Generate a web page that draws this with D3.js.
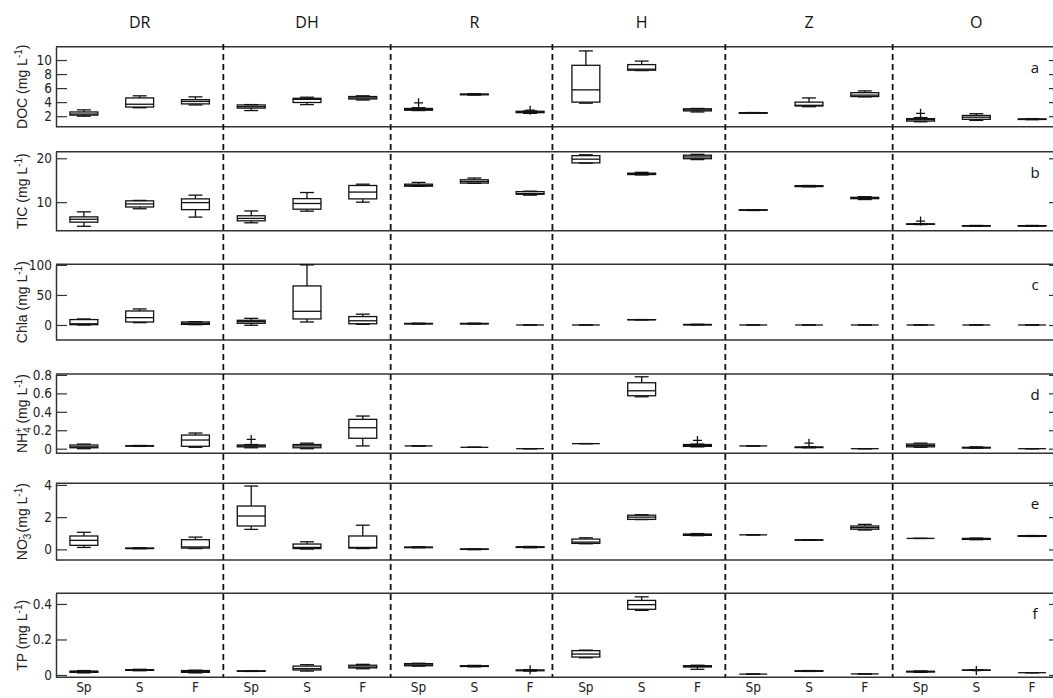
<!DOCTYPE html>
<html><head><meta charset="utf-8">
<script src="https://cdn.jsdelivr.net/npm/d3@7"></script>
<style>body{margin:0;background:#fff}</style>
</head><body><svg id="c" width="1053" height="698"></svg>
<script>
const groups = ["DR","DH","R","H","Z","O"];
const seasons = ["Sp","S","F"];
const separators = [3.5, 6.5, 9.4, 12.5, 15.5];
const panelLetters = ["a","b","c","d","e","f"];

// [low whisker, q1, median, q3, high whisker] for positions 1..18
const docStats = [
[2.0,2.15,2.3,2.6,2.9],[3.2,3.3,3.7,4.6,4.9],[3.6,3.75,4.1,4.35,4.75],
[2.8,3.15,3.35,3.6,3.65],[3.65,3.95,4.4,4.55,4.7],[4.3,4.45,4.6,4.8,4.9],
[2.8,2.85,2.95,3.1,3.2],[5.0,5.05,5.1,5.15,5.2],[2.4,2.5,2.6,2.7,2.75],
[3.85,4.0,5.75,9.25,11.3],[8.5,8.55,8.7,9.35,9.85],[2.6,2.75,2.9,3.05,3.1],
[2.4,2.42,2.45,2.5,2.52],[3.35,3.45,3.55,4.0,4.6],[4.75,4.8,5.0,5.35,5.6],
[1.2,1.3,1.5,1.65,1.8],[1.4,1.55,1.85,2.1,2.35],[1.5,1.53,1.57,1.6,1.65]];
const docOutliers = [[7,3.9],[9,2.85],[16,2.4]];
const docTicks = [2,4,6,8,10];

const ticStats = [
[4.5,5.45,6.1,6.65,7.8],[8.5,8.9,9.6,10.3,10.4],[6.6,8.3,9.9,10.75,11.6],
[5.3,5.75,6.3,6.9,8.0],[7.95,8.4,9.7,10.8,12.2],[10.0,10.75,12.3,13.8,14.1],
[13.6,13.65,13.8,14.1,14.5],[14.3,14.35,14.7,15.1,15.5],[11.6,11.8,11.95,12.4,12.5],
[18.9,18.95,19.8,20.6,20.8],[16.2,16.3,16.45,16.6,16.8],[19.7,19.9,20.3,20.7,20.9],
[8.1,8.15,8.2,8.25,8.3],[13.5,13.55,13.65,13.75,13.8],[10.6,10.8,10.95,11.1,11.25],
[4.9,4.95,5.0,5.05,5.1],[4.5,4.55,4.6,4.65,4.7],[4.5,4.55,4.6,4.65,4.7]];
const ticOutliers = [[16,5.7]];
const ticTicks = [10,20];

const chlaStats = [
[0,0.5,2,9,10],[3.9,5,12.2,23.3,26.7],[0.5,1,2.8,5,5.5],
[-0.5,2.8,5.5,7.8,11],[5,10,22.8,65,100],[1,2,7,14,18],
[1.5,1.8,2.2,2.6,3.0],[1.5,1.8,2.2,2.6,3.0],[0,0,0,0,0],
[0,0,0,0,0],[8.5,8.7,8.8,8.9,9.0],[0,0.2,0.5,0.9,1.2],
[0,0,0,0,0],[0,0,0,0,0],[0,0,0,0,0],
[0,0,0,0,0],[0,0,0,0,0],[0,0,0,0,0]];
const chlaOutliers = [];
const chlaTicks = [0,50,100];

const nh4Stats = [
[0.0,0.01,0.02,0.04,0.05],[0.025,0.028,0.03,0.032,0.035],[0.015,0.026,0.094,0.148,0.17],
[0.01,0.02,0.03,0.04,0.045],[0.0,0.01,0.03,0.045,0.06],[0.03,0.113,0.227,0.318,0.354],
[0.03,0.03,0.03,0.03,0.03],[0.015,0.015,0.015,0.015,0.015],[0,0,0,0,0],
[0.055,0.055,0.055,0.055,0.055],[0.563,0.574,0.628,0.715,0.78],[0.02,0.025,0.035,0.045,0.05],
[0.03,0.03,0.03,0.03,0.03],[0.01,0.012,0.015,0.018,0.02],[0,0,0,0,0],
[0.015,0.02,0.035,0.05,0.06],[0.005,0.008,0.01,0.015,0.02],[0,0,0,0,0]];
const nh4Outliers = [[4,0.1],[12,0.09],[14,0.06]];
const nh4Ticks = [0,0.2,0.4,0.6,0.8];

const no3Stats = [
[0.12,0.25,0.56,0.83,1.06],[0.04,0.05,0.06,0.08,0.1],[0.05,0.08,0.15,0.6,0.76],
[1.24,1.45,2.07,2.69,3.93],[0.02,0.05,0.12,0.33,0.47],[0.05,0.08,0.12,0.83,1.5],
[0.1,0.11,0.12,0.14,0.16],[-0.02,0,0.01,0.02,0.03],[0.1,0.12,0.14,0.16,0.18],
[0.35,0.37,0.45,0.64,0.72],[1.85,1.86,2.0,2.12,2.15],[0.85,0.87,0.9,0.95,0.98],
[0.9,0.9,0.9,0.9,0.9],[0.56,0.57,0.58,0.59,0.6],[1.2,1.25,1.35,1.45,1.55],
[0.68,0.68,0.68,0.68,0.68],[0.6,0.62,0.65,0.68,0.7],[0.8,0.81,0.83,0.85,0.86]];
const no3Outliers = [];
const no3Ticks = [0,2,4];

const tpStats = [
[0.012,0.015,0.018,0.022,0.025],[0.024,0.026,0.028,0.03,0.032],[0.012,0.015,0.02,0.025,0.027],
[0.02,0.021,0.022,0.023,0.024],[0.022,0.028,0.036,0.05,0.058],[0.035,0.04,0.045,0.055,0.06],
[0.05,0.052,0.057,0.064,0.066],[0.046,0.048,0.05,0.052,0.054],[0.022,0.024,0.026,0.028,0.03],
[0.097,0.101,0.118,0.137,0.14],[0.364,0.37,0.396,0.42,0.44],[0.032,0.045,0.05,0.052,0.055],
[0.005,0.005,0.005,0.005,0.005],[0.02,0.021,0.022,0.024,0.025],[0.006,0.006,0.006,0.006,0.006],
[0.015,0.017,0.019,0.021,0.023],[0.026,0.027,0.027,0.028,0.029],[0.013,0.013,0.013,0.013,0.013]];
const tpOutliers = [[9,0.03],[17,0.025]];
const tpTicks = [0,0.2,0.4];

const yDomains = [[0.5,11.9],[3.5,21.5],[-25,101],[-0.05,0.81],[-0.66,4.1],[-0.013,0.46]];

const panels = [
  {stats: docStats, out: docOutliers, ticks: docTicks, label: [["DOC (mg L",0],["-1","sup"],[")",0]]},
  {stats: ticStats, out: ticOutliers, ticks: ticTicks, label: [["TIC (mg L",0],["-1","sup"],[")",0]]},
  {stats: chlaStats, out: chlaOutliers, ticks: chlaTicks, label: [["Chla (mg L",0],["-1","sup"],[")",0]]},
  {stats: nh4Stats, out: nh4Outliers, ticks: nh4Ticks, label: [["NH",0],["4","sub"],["+","supback"],[" (mg L",0],["-1","sup"],[")",0]]},
  {stats: no3Stats, out: no3Outliers, ticks: no3Ticks, label: [["NO",0],["3","sub"],["-","supback"],[" (mg L",0],["-1","sup"],[")",0]]},
  {stats: tpStats, out: tpOutliers, ticks: tpTicks, label: [["TP (mg L",0],["-1","sup"],[")",0]]}
];
const panelBounds = [[46.7,126.7],[151.7,230.7],[264.3,340],[374,453.3],[483.3,560],[593.3,677.3]];

const svg = d3.select("#c");
const numFont = "'Liberation Sans Narrow','DejaVu Sans Condensed','Liberation Sans',sans-serif";
const x = d3.scaleLinear().domain([0.5, 18.5]).range([56, 1060]);
const unit = x(1) - x(0);
const boxW = unit * 0.5, capW = unit * 0.25;

svg.selectAll("text.col").data(groups).enter().append("text")
  .attr("x", (d,i) => x(i*3+2)).attr("y", 28)
  .attr("text-anchor","middle").attr("font-family","'Open Sans',sans-serif")
  .attr("font-size",16).attr("fill","#111").text(d=>d);

panels.forEach((p, pi) => {
  const [top, bot] = panelBounds[pi];
  const y = d3.scaleLinear().domain(yDomains[pi]).range([bot, top]);
  const g = svg.append("g");
  g.append("line").attr("x1",56).attr("x2",1060).attr("y1",top).attr("y2",top).attr("stroke","#333").attr("stroke-width",1.5);
  g.append("line").attr("x1",56).attr("x2",1060).attr("y1",bot).attr("y2",bot).attr("stroke","#333").attr("stroke-width",1.5);
  const ax = g.append("g").attr("transform","translate(56,0)")
    .call(d3.axisLeft(y).tickValues(p.ticks).tickSizeInner(-11).tickSizeOuter(0).tickPadding(4).tickFormat(d3.format("~g")));
  ax.select(".domain").attr("stroke","#333").attr("stroke-width",1.5);
  ax.selectAll(".tick line").attr("stroke","#333").attr("stroke-width",1.2);
  ax.selectAll(".tick text").attr("font-family",numFont).attr("font-size",13.5).attr("fill","#222");
  g.append("g").attr("transform","translate(1060,0)")
    .call(d3.axisRight(y).tickValues(p.ticks).tickSizeInner(-11).tickSizeOuter(0).tickFormat(""))
    .call(s => { s.select(".domain").attr("stroke","#333").attr("stroke-width",1.5); s.selectAll(".tick line").attr("stroke","#333").attr("stroke-width",1.2); });
  const t = g.append("text").attr("transform",`translate(27,${(top+bot)/2}) rotate(-90)`)
    .attr("text-anchor","middle").attr("font-family","'Liberation Sans',Arial,sans-serif")
    .attr("font-size",14).attr("fill","#222");
  p.label.forEach(([s, k]) => {
    const ts = t.append("tspan").text(s);
    if (k === "sup") ts.attr("font-size",10).attr("dy",-5);
    if (k === "sub") ts.attr("font-size",10).attr("dy",4);
    if (k === "supback") ts.attr("font-size",10).attr("dx",-6).attr("dy",-9);
    if (k === 0 && s.startsWith(")")) ts.attr("dy",5);
    if (k === 0 && s.startsWith(" (")) ts.attr("dy",5);
  });
  g.append("text").attr("x",1035).attr("y",top+26).attr("text-anchor","middle")
    .attr("font-family","'Open Sans',sans-serif").attr("font-size",15).attr("fill","#111")
    .text(panelLetters[pi]);
  const bg = g.selectAll("g.box").data(p.stats).enter().append("g");
  const st = s => s.attr("stroke","#111").attr("stroke-width",1.3);
  bg.append("line").attr("x1",(d,i)=>x(i+1)).attr("x2",(d,i)=>x(i+1))
    .attr("y1",d=>y(d[4])).attr("y2",d=>y(d[3])).call(st);
  bg.append("line").attr("x1",(d,i)=>x(i+1)).attr("x2",(d,i)=>x(i+1))
    .attr("y1",d=>y(d[1])).attr("y2",d=>y(d[0])).call(st);
  bg.append("line").attr("x1",(d,i)=>x(i+1)-capW/2).attr("x2",(d,i)=>x(i+1)+capW/2)
    .attr("y1",d=>y(d[4])).attr("y2",d=>y(d[4])).call(st);
  bg.append("line").attr("x1",(d,i)=>x(i+1)-capW/2).attr("x2",(d,i)=>x(i+1)+capW/2)
    .attr("y1",d=>y(d[0])).attr("y2",d=>y(d[0])).call(st);
  bg.append("rect").attr("x",(d,i)=>x(i+1)-boxW/2).attr("width",boxW)
    .attr("y",d=>y(d[3])).attr("height",d=>Math.max(0,y(d[1])-y(d[3])))
    .attr("fill","none").call(st);
  bg.append("line").attr("x1",(d,i)=>x(i+1)-boxW/2).attr("x2",(d,i)=>x(i+1)+boxW/2)
    .attr("y1",d=>y(d[2])).attr("y2",d=>y(d[2])).call(st);
  g.selectAll("path.out").data(p.out).enter().append("path")
    .attr("d", d => { const cx = x(d[0]), cy = y(d[1]); return `M${cx-4.5},${cy}H${cx+4.5}M${cx},${cy-4.5}V${cy+4.5}`; })
    .attr("fill","none").call(st);
});

svg.selectAll("line.sep").data(separators).enter().append("line")
  .attr("x1",d=>x(d)).attr("x2",d=>x(d)).attr("y1",44).attr("y2",677.3)
  .attr("stroke","#111").attr("stroke-width",1.8).attr("stroke-dasharray","6,4");

const posLabels = d3.range(18).map(i => seasons[i % 3]);
svg.selectAll("text.xl").data(posLabels).enter().append("text")
  .attr("x",(d,i)=>x(i+1)).attr("y",692).attr("text-anchor","middle")
  .attr("font-family",numFont).attr("font-size",13.5).attr("fill","#222").text(d=>d);
</script></body></html>
